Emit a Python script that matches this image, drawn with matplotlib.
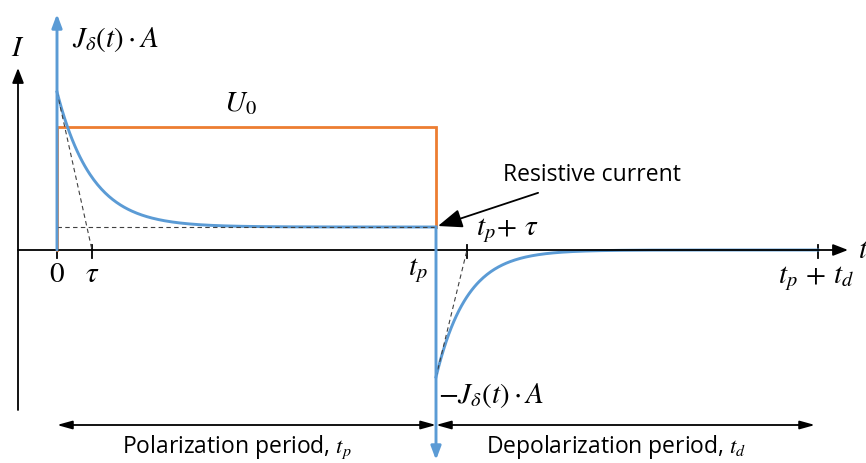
import numpy as np
import matplotlib

matplotlib.use("Agg")
import matplotlib.pyplot as plt

plt.rcParams["mathtext.fontset"] = "stix"
plt.rcParams["font.family"] = ["Open Sans", "DejaVu Sans"]

BLUE = "#5B9BD5"
ORANGE = "#ED7D31"

# schematic units: time along x, current along y (origin at t=0, I=0)
TAU_P = 35          # polarization time constant
TAU_D = 31          # depolarization time constant
T_P = 379           # end of polarization
T_D = 382           # depolarization duration
I_PEAK = 158        # current right after the step
I_RES = 23          # resistive (steady) current
U0_LEVEL = 123      # drawn height of the voltage step
I_NEG = -127        # current right after removing the voltage

tick_pos = [0, TAU_P, T_P, T_P + TAU_D, T_P + T_D]
tick_labels = [r"$0$", r"$\tau$", r"$t_p$", r"$t_p\!+\,\tau$", r"$t_p\,+\,t_d$"]

MATH_FS = 21
TEXT_FS = 16.5

fig = plt.figure(figsize=(8.66, 4.63), dpi=100)
ax = fig.add_axes([0, 0, 1, 1])
ax.set_xlim(-57, 809)
ax.set_ylim(-213, 250)
ax.axis("off")

# axes
ax.annotate("", xy=(791, 0), xytext=(-39, 0),
            arrowprops=dict(arrowstyle="-|>,head_length=0.9,head_width=0.35", lw=1.3, color="black",
                            shrinkA=0, shrinkB=0))
ax.annotate("", xy=(-39, 182), xytext=(-39, -160),
            arrowprops=dict(arrowstyle="-|>,head_length=0.9,head_width=0.35", lw=1.3, color="black",
                            shrinkA=0, shrinkB=0))
ax.text(-39, 202, r"$I$", fontsize=MATH_FS, ha="center", va="center")
ax.text(806, 0, r"$t$", fontsize=MATH_FS, ha="center", va="center")

# ticks
for t in tick_pos:
    ax.plot([t, t], [5, -8], color="black", lw=1.3)
for t, lab in zip(tick_pos, tick_labels):
    if t == T_P + TAU_D:
        ax.text(t + 9, 19, lab, fontsize=MATH_FS, ha="left", va="center")
    elif t == T_P:
        ax.text(t - 18, -21, lab, fontsize=MATH_FS, ha="center", va="center")
    elif t == T_P + T_D:
        ax.text(t - 2, -29, lab, fontsize=MATH_FS, ha="center", va="center")
    else:
        ax.text(t, -24, lab, fontsize=MATH_FS, ha="center", va="center")

# applied voltage step
ax.plot([0, 0, T_P, T_P], [0, U0_LEVEL, U0_LEVEL, I_RES], color=ORANGE, lw=2.0,
        solid_joinstyle="miter")
ax.text(183, 146, r"$U_0$", fontsize=MATH_FS, ha="center", va="center")

# current impulses at switching
ax.annotate("", xy=(0, 236), xytext=(0, 0),
            arrowprops=dict(arrowstyle="-|>,head_length=0.8,head_width=0.3", lw=2.1, color=BLUE,
                            shrinkA=0, shrinkB=0))
ax.annotate("", xy=(T_P, -210), xytext=(T_P, I_RES),
            arrowprops=dict(arrowstyle="-|>,head_length=0.8,head_width=0.3", lw=2.1, color=BLUE,
                            shrinkA=0, shrinkB=0))
ax.text(15, 211, r"$J_\delta(t)\cdot A$", fontsize=MATH_FS, ha="left", va="center")
ax.text(T_P + 2, -146, r"$-J_\delta(t)\cdot A$", fontsize=MATH_FS, ha="left", va="center")

# polarization and depolarization currents
t_pol = np.linspace(0, T_P, 300)
i_pol = I_RES + (I_PEAK - I_RES) * np.exp(-t_pol / TAU_P)
t_dep = np.linspace(0, T_D, 300)
i_dep = I_NEG * np.exp(-t_dep / TAU_D)
ax.plot(t_pol, i_pol, color=BLUE, lw=2.1)
ax.plot(T_P + t_dep, i_dep, color=BLUE, lw=2.1)

# tangents at the switching instants and the resistive level
ax.plot([0, T_P], [I_RES, I_RES], color="#404040", lw=0.8, ls=(0, (4, 3)))
ax.plot([0, TAU_P], [I_PEAK, 0], color="#404040", lw=0.8, ls=(0, (4, 3)))
ax.plot([T_P, T_P + TAU_D], [I_NEG, 0], color="#404040", lw=0.8, ls=(0, (4, 3)))

ax.annotate("Resistive current", xy=(T_P + 2, I_RES + 1), xytext=(T_P + 67, 75),
            fontsize=TEXT_FS, ha="left", va="center",
            arrowprops=dict(arrowstyle="-|>,head_length=0.9,head_width=0.35", lw=1.3, color="black",
                            shrinkA=7, shrinkB=0))

# period spans
ax.annotate("", xy=(0, -175), xytext=(T_P, -175),
            arrowprops=dict(arrowstyle="<|-|>,head_length=0.9,head_width=0.25", lw=1.3,
                            color="black", shrinkA=0, shrinkB=0))
ax.annotate("", xy=(T_P, -175), xytext=(T_P + T_D - 3, -175),
            arrowprops=dict(arrowstyle="<|-|>,head_length=0.9,head_width=0.25", lw=1.3,
                            color="black", shrinkA=0, shrinkB=0))
ax.text(T_P / 2 - 10, -197, r"Polarization period, $t_p$", fontsize=TEXT_FS, ha="center",
        va="center")
ax.text(T_P + T_D / 2 - 11, -197, r"Depolarization period, $t_d$", fontsize=TEXT_FS,
        ha="center", va="center")

fig.savefig("out.png", dpi=100)
